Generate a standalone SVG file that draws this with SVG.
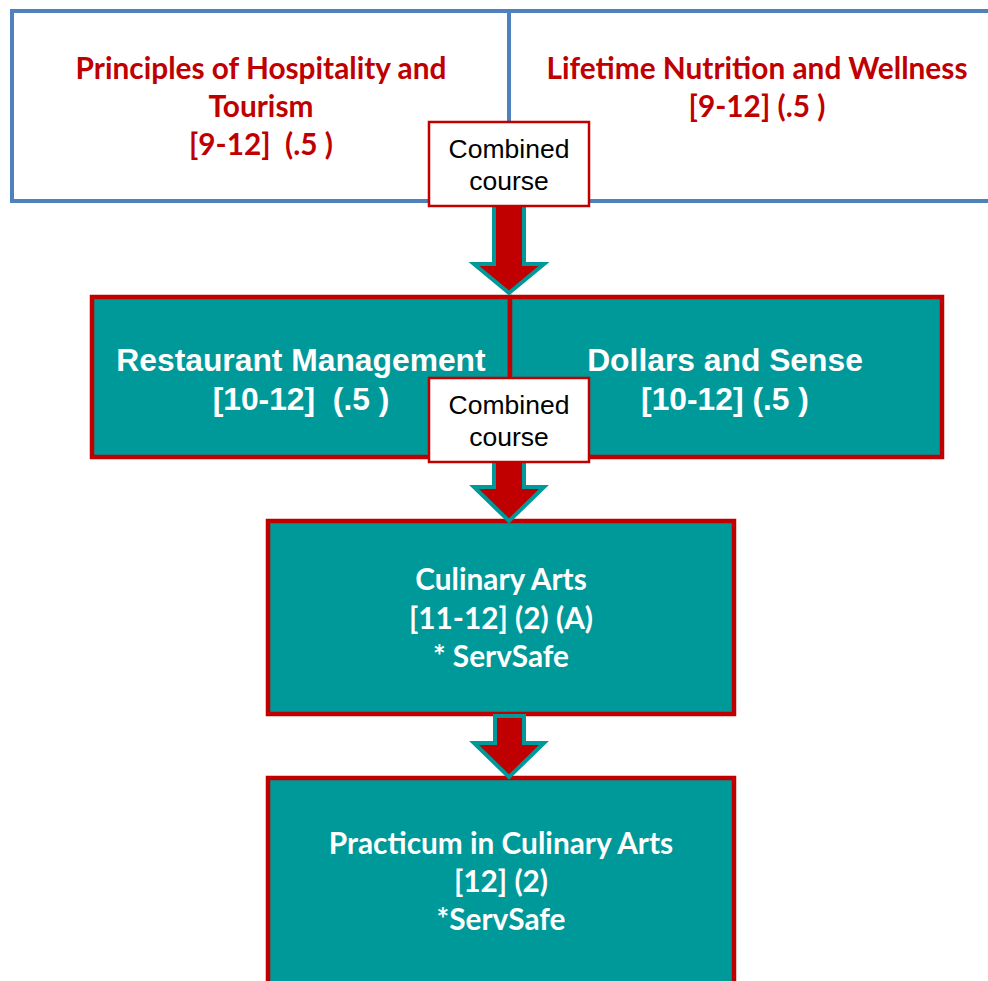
<svg xmlns="http://www.w3.org/2000/svg" width="988" height="981" viewBox="0 0 988 981">
<style>
.top{fill:#fff;stroke:#4F81BD;stroke-width:4}
.teal{fill:#009999;stroke:#C00000;stroke-width:4.5}
.comb{fill:#fff;stroke:#C00000;stroke-width:2.5}
.arr{fill:#C00000;stroke:#009999;stroke-width:4;stroke-linejoin:miter}
.rt{font-family:Lato,"Open Sans",sans-serif;font-weight:bold;font-size:29.8px;fill:#C00000;text-anchor:middle}
.wt{font-family:"Liberation Sans",Arial,sans-serif;font-weight:bold;font-size:31.8px;fill:#fff;text-anchor:middle}
.ct{font-family:Lato,"Open Sans",sans-serif;font-weight:bold;font-size:29.8px;fill:#fff;text-anchor:middle}
.bt{font-family:"Liberation Sans",Arial,sans-serif;font-size:26.5px;fill:#000;text-anchor:middle}
</style>
<rect width="988" height="981" fill="#fff"/>
<g id="hospitality">
<rect class="top" x="12" y="11" width="497" height="190"/>
<text class="rt" x="261" y="79">Principles of Hospitality and</text>
<text class="rt" x="261" y="117">Tourism</text>
<text class="rt" x="261" y="155" xml:space="preserve">[9-12]  (.5 )</text>
</g>
<g id="nutrition">
<rect class="top" x="509" y="11" width="500" height="190"/>
<text class="rt" x="757" y="79">Lifetime Nutrition and Wellness</text>
<text class="rt" x="757" y="117">[9-12] (.5 )</text>
</g>
<g id="restaurant">
<rect class="teal" x="92" y="297" width="418" height="160"/>
<text class="wt" x="301" y="371">Restaurant Management</text>
<text class="wt" x="301" y="410" xml:space="preserve">[10-12]  (.5 )</text>
</g>
<g id="dollars">
<rect class="teal" x="510" y="297" width="432" height="160"/>
<text class="wt" x="725" y="371">Dollars and Sense</text>
<text class="wt" x="725" y="410">[10-12] (.5 )</text>
</g>
<g id="culinary">
<rect class="teal" x="268" y="521" width="466" height="193"/>
<text class="ct" x="501" y="590">Culinary Arts</text>
<text class="ct" x="501" y="629">[11-12] (2) (A)</text>
<text class="ct" x="501" y="667">* ServSafe</text>
</g>
<g id="practicum">
<rect class="teal" x="268" y="778" width="466" height="230"/>
<text class="ct" x="501" y="854">Practicum in Culinary Arts</text>
<text class="ct" x="501" y="892">[12] (2)</text>
<text class="ct" x="501" y="930">*ServSafe</text>
</g>
<g id="connectors">
<path class="arr" d="M494,200 H524 V264 H544 L509,293 L474,264 H494 Z"/>
<path class="arr" d="M494,455 H524 V487 H544 L509,521 L474,487 H494 Z"/>
<path class="arr" d="M495,716 H524 V743 H544 L509,777 L474,743 H495 Z"/>
</g>
<g id="combined1">
<rect class="comb" x="429" y="122" width="160" height="84"/>
<text class="bt" x="509" y="158">Combined</text>
<text class="bt" x="509" y="190">course</text>
</g>
<g id="combined2">
<rect class="comb" x="429" y="378" width="160" height="84"/>
<text class="bt" x="509" y="414">Combined</text>
<text class="bt" x="509" y="446">course</text>
</g>
</svg>
